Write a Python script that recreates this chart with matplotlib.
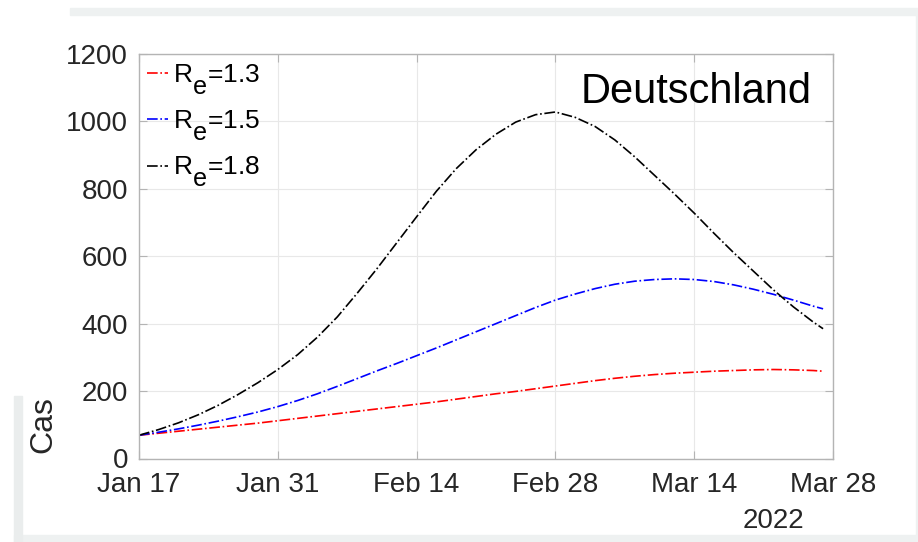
import numpy as np
import matplotlib
matplotlib.use('Agg')
import matplotlib.pyplot as plt
import matplotlib.dates as mdates
import matplotlib._mathtext as mtext
from matplotlib.patches import Rectangle

plt.rcParams['font.family'] = ['Liberation Sans', 'DejaVu Sans']
plt.rcParams['mathtext.fontset'] = 'custom'
plt.rcParams['mathtext.rm'] = 'Liberation Sans'
plt.rcParams['mathtext.it'] = 'Liberation Sans'
# MATLAB-style subscripts: nearly full size and dropped low
mtext.SHRINK_FACTOR = 0.95
mtext.FontConstantsBase.sub1 = 0.9
mtext.FontConstantsBase.sub2 = 0.9

# days after 17 Jan 2022
days = [0, 2, 4, 6, 8, 10, 12, 14, 16, 18, 20, 22, 24, 26, 28, 30, 32, 34,
        36, 38, 40, 42, 44, 46, 48, 50, 52, 54, 56, 58, 60, 62, 64, 66, 68, 69]
cases_13 = [69, 75, 81, 87, 93, 99, 105, 112, 119, 126, 133, 140, 147, 154, 161, 168, 176, 184,
            192, 199, 207, 215, 223, 231, 238, 244, 249, 253, 256, 259, 261, 263, 264, 263, 261, 259]
cases_15 = [69, 78, 88, 99, 111, 124, 138, 154, 172, 192, 214, 237, 260, 282, 305, 328, 352, 376,
            400, 424, 448, 470, 488, 504, 517, 526, 531, 533, 531, 525, 515, 502, 487, 470, 452, 444]
cases_18 = [69, 86, 106, 130, 158, 190, 225, 264, 308, 360, 420, 490, 563, 640, 717, 793, 860, 916,
            962, 998, 1020, 1028, 1012, 985, 945, 895, 840, 785, 728, 668, 610, 555, 500, 450, 405, 385]
labels = [r'R$_\mathregular{e}$=1.3', r'R$_\mathregular{e}$=1.5', r'R$_\mathregular{e}$=1.8']
colors = ['red', 'blue', 'black']

start = np.datetime64('2022-01-17')
dates = start + np.array(days).astype('timedelta64[D]')

fig = plt.figure(figsize=(9.18, 5.42), dpi=100)
# screenshot frame bands
fig.patches.append(Rectangle((70 / 918, 1 - 15 / 542), 1, 7 / 542, transform=fig.transFigure,
                             color='#eef1f1', zorder=0))
fig.patches.append(Rectangle((14 / 918, 0), 1, 7 / 542, transform=fig.transFigure,
                             color='#eef1f1', zorder=0))
fig.patches.append(Rectangle((14 / 918, 0), 8 / 918, 1 - 396 / 542, transform=fig.transFigure,
                             color='#eaeded', zorder=0))
fig.patches.append(Rectangle((916 / 918, 7 / 542), 2 / 918, 1 - 22 / 542, transform=fig.transFigure,
                             color='#eef1f1', zorder=0))

ax = fig.add_axes([139 / 918, 1 - 458.5 / 542, (833 - 139) / 918, (458.5 - 54) / 542])

for vals, lab, c in zip([cases_13, cases_15, cases_18], labels, colors):
    ax.plot(dates, vals, linestyle='-.', color=c, lw=1.2, label=lab)

ax.set_xlim(np.datetime64('2022-01-17'), np.datetime64('2022-03-28'))
ax.set_ylim(0, 1200)
ax.set_yticks(range(0, 1201, 200))
ax.set_xticks([start + np.timedelta64(14 * i, 'D') for i in range(6)])
ax.xaxis.set_major_formatter(mdates.DateFormatter('%b %d'))

ax.grid(True, color='#e8e8e8', lw=0.8)
ax.set_axisbelow(True)
for s in ax.spines.values():
    s.set_color('#b4b4b4')
    s.set_linewidth(1.0)
ax.tick_params(direction='in', length=6, width=0.8, color='#b4b4b4',
               top=True, right=True, labelsize=20, labelcolor='#262626')
ax.tick_params(axis='x', pad=10)
ax.tick_params(axis='y', pad=8)

ax.text(812 / 918, 1 - 103 / 542, 'Deutschland', transform=fig.transFigure,
        fontsize=30, ha='right', va='baseline', color='black')
fig.text(43.5 / 918, 1 - 425 / 542, 'Cas', rotation=90, fontsize=23,
         ha='center', va='center', color='#262626')
fig.text(773 / 918, 1 - 521 / 542, '2022', fontsize=20, ha='center', va='center', color='#262626')

ax.legend(loc='upper left', frameon=False, fontsize=19, handlelength=0.8,
          handletextpad=0.2, labelspacing=0.45, borderaxespad=0.1, borderpad=0.2)

fig.savefig('out.png', dpi=100)
